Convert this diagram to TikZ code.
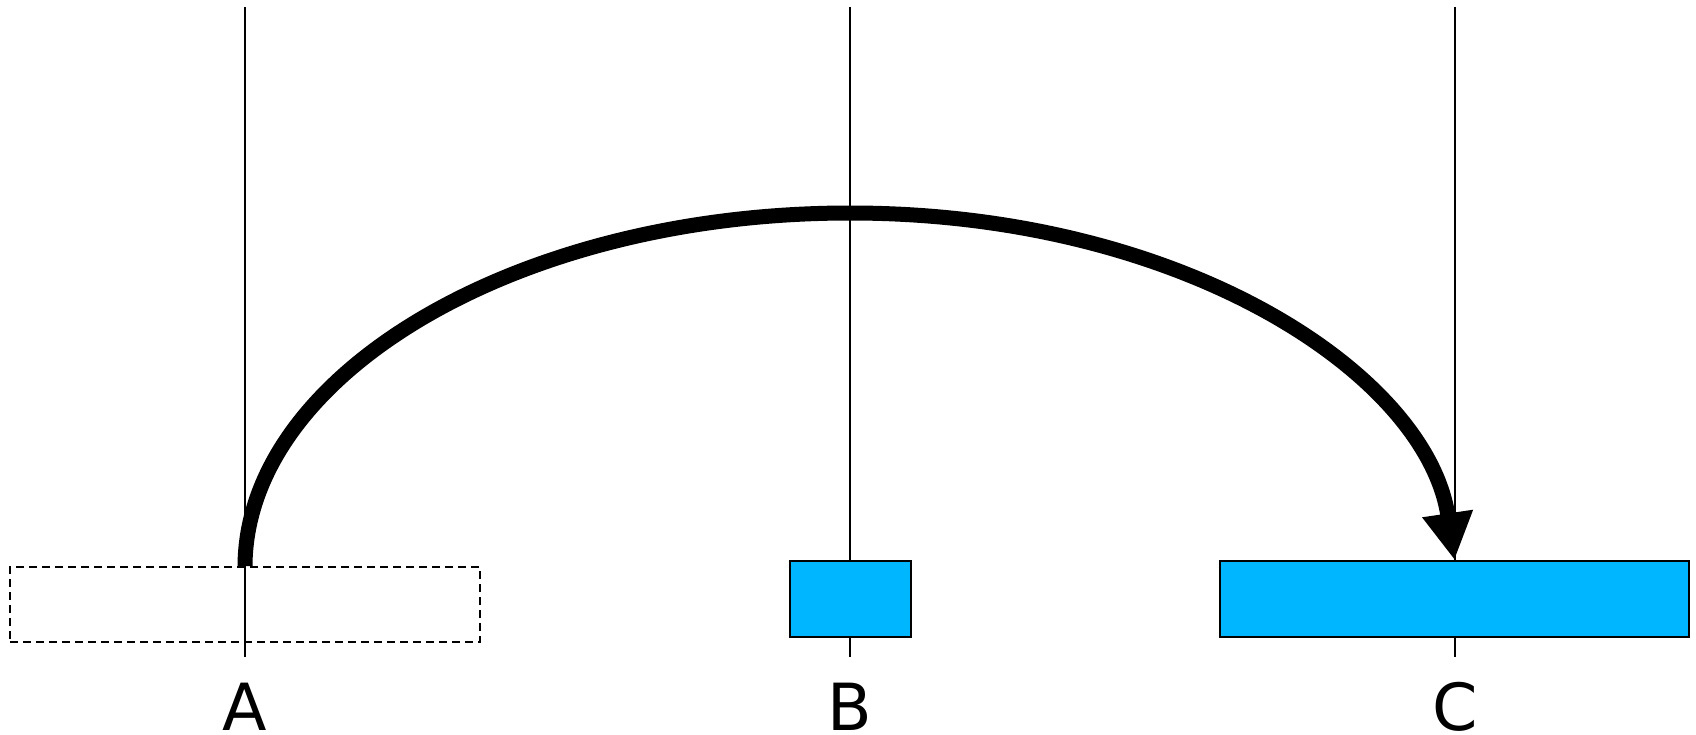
\documentclass[tikz,border=0pt]{standalone}
\usepackage{fontspec}
\setmainfont{DejaVu Sans}
\usetikzlibrary{arrows.meta}
\definecolor{boxblue}{RGB}{0,183,255}
\tikzset{
  guide/.style={line width=2pt},
  bluebox/.style={draw=black, line width=2pt, fill=boxblue, minimum height=76pt, inner sep=0pt},
  ghostbox/.style={draw=black, line width=2pt, dash pattern=on 8pt off 5pt, minimum height=75pt, inner sep=0pt},
  lbl/.style={font=\fontsize{65}{70}\selectfont, anchor=base, inner sep=0pt, text depth=0pt},
  jump/.style={line width=15pt, -{Triangle[length=47pt,width=48pt]}}
}
\begin{document}
\begin{tikzpicture}[x=1pt,y=-1pt]
\useasboundingbox (0,0) rectangle (1696,735);
% guide lines
\coordinate (at) at (245,7);   \coordinate (ab) at (245,657);
\coordinate (bt) at (849.5,7); \coordinate (bb) at (849.5,657);
\coordinate (ct) at (1455,7);  \coordinate (cb) at (1455,657);
\draw[guide] (at) -- (ab);
\draw[guide] (bt) -- (bb);
\draw[guide] (ct) -- (cb);
% boxes
\node[ghostbox, minimum width=470pt] (a) at (245,604.5) {};
\node[bluebox, minimum width=121pt] (b) at (850,599) {};
\node[bluebox, minimum width=469pt] (c) at (1454.5,599) {};
% labels
\node[lbl] (la) at (245,730.5) {A};
\node[lbl] (lb) at (849.5,730.5) {B};
\node[lbl] (lc) at (1455,730.5) {C};
% arrow
\coordinate (apex) at (850,213);
\draw[jump] (a.north) .. controls (246,375) and (516,213) .. (apex)
  .. controls (1184,213) and (1427,375) .. (c.north);
\end{tikzpicture}
\end{document}
